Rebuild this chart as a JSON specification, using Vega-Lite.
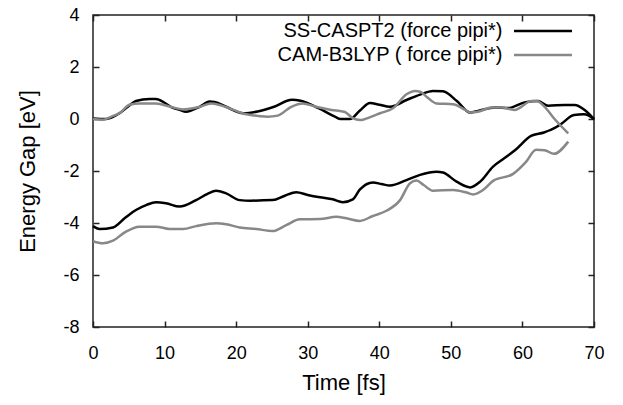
{
  "$schema": "https://vega.github.io/schema/vega-lite/v6.json",
  "width": 501,
  "height": 312,
  "autosize": "none",
  "padding": {"left": 93, "top": 15, "right": 29, "bottom": 78},
  "background": "white",
  "config": {
    "view": {"stroke": "#222", "strokeWidth": 1.5},
    "font": "Liberation Sans",
    "axis": {"grid": false, "domain": false, "tickColor": "#222", "tickWidth": 1.5, "tickSize": -6, "labelFlush": false, "labelFont": "Liberation Sans", "labelFontSize": 18, "labelColor": "#000", "titleFont": "Liberation Sans", "titleFontSize": 22, "titleFontWeight": "normal", "titleColor": "#000"}
  },
  "datasets": {
    "gaps": [
      {"t": 0, "gap": 0.02, "method": "SS-CASPT2 (force pipi*)", "state": "SSup"},
      {"t": 1.8, "gap": 0.0, "method": "SS-CASPT2 (force pipi*)", "state": "SSup"},
      {"t": 3.7, "gap": 0.22, "method": "SS-CASPT2 (force pipi*)", "state": "SSup"},
      {"t": 5.0, "gap": 0.5, "method": "SS-CASPT2 (force pipi*)", "state": "SSup"},
      {"t": 6.0, "gap": 0.69, "method": "SS-CASPT2 (force pipi*)", "state": "SSup"},
      {"t": 7.9, "gap": 0.77, "method": "SS-CASPT2 (force pipi*)", "state": "SSup"},
      {"t": 8.8, "gap": 0.77, "method": "SS-CASPT2 (force pipi*)", "state": "SSup"},
      {"t": 9.3, "gap": 0.73, "method": "SS-CASPT2 (force pipi*)", "state": "SSup"},
      {"t": 11.0, "gap": 0.45, "method": "SS-CASPT2 (force pipi*)", "state": "SSup"},
      {"t": 12.1, "gap": 0.35, "method": "SS-CASPT2 (force pipi*)", "state": "SSup"},
      {"t": 13.0, "gap": 0.28, "method": "SS-CASPT2 (force pipi*)", "state": "SSup"},
      {"t": 14.9, "gap": 0.47, "method": "SS-CASPT2 (force pipi*)", "state": "SSup"},
      {"t": 16.3, "gap": 0.67, "method": "SS-CASPT2 (force pipi*)", "state": "SSup"},
      {"t": 17.0, "gap": 0.65, "method": "SS-CASPT2 (force pipi*)", "state": "SSup"},
      {"t": 18.6, "gap": 0.47, "method": "SS-CASPT2 (force pipi*)", "state": "SSup"},
      {"t": 21.0, "gap": 0.22, "method": "SS-CASPT2 (force pipi*)", "state": "SSup"},
      {"t": 23.0, "gap": 0.29, "method": "SS-CASPT2 (force pipi*)", "state": "SSup"},
      {"t": 25.2, "gap": 0.46, "method": "SS-CASPT2 (force pipi*)", "state": "SSup"},
      {"t": 27.8, "gap": 0.74, "method": "SS-CASPT2 (force pipi*)", "state": "SSup"},
      {"t": 29.0, "gap": 0.7, "method": "SS-CASPT2 (force pipi*)", "state": "SSup"},
      {"t": 31.5, "gap": 0.42, "method": "SS-CASPT2 (force pipi*)", "state": "SSup"},
      {"t": 33.8, "gap": 0.09, "method": "SS-CASPT2 (force pipi*)", "state": "SSup"},
      {"t": 34.6, "gap": 0.0, "method": "SS-CASPT2 (force pipi*)", "state": "SSup"},
      {"t": 35.9, "gap": 0.0, "method": "SS-CASPT2 (force pipi*)", "state": "SSup"},
      {"t": 37.3, "gap": 0.33, "method": "SS-CASPT2 (force pipi*)", "state": "SSup"},
      {"t": 38.7, "gap": 0.62, "method": "SS-CASPT2 (force pipi*)", "state": "SSup"},
      {"t": 40.0, "gap": 0.55, "method": "SS-CASPT2 (force pipi*)", "state": "SSup"},
      {"t": 41.5, "gap": 0.47, "method": "SS-CASPT2 (force pipi*)", "state": "SSup"},
      {"t": 43.8, "gap": 0.73, "method": "SS-CASPT2 (force pipi*)", "state": "SSup"},
      {"t": 45.7, "gap": 0.94, "method": "SS-CASPT2 (force pipi*)", "state": "SSup"},
      {"t": 47.5, "gap": 1.08, "method": "SS-CASPT2 (force pipi*)", "state": "SSup"},
      {"t": 48.9, "gap": 1.07, "method": "SS-CASPT2 (force pipi*)", "state": "SSup"},
      {"t": 50.8, "gap": 0.7, "method": "SS-CASPT2 (force pipi*)", "state": "SSup"},
      {"t": 52.7, "gap": 0.25, "method": "SS-CASPT2 (force pipi*)", "state": "SSup"},
      {"t": 53.8, "gap": 0.31, "method": "SS-CASPT2 (force pipi*)", "state": "SSup"},
      {"t": 56.2, "gap": 0.44, "method": "SS-CASPT2 (force pipi*)", "state": "SSup"},
      {"t": 58.0, "gap": 0.42, "method": "SS-CASPT2 (force pipi*)", "state": "SSup"},
      {"t": 60.3, "gap": 0.64, "method": "SS-CASPT2 (force pipi*)", "state": "SSup"},
      {"t": 62.2, "gap": 0.69, "method": "SS-CASPT2 (force pipi*)", "state": "SSup"},
      {"t": 63.6, "gap": 0.51, "method": "SS-CASPT2 (force pipi*)", "state": "SSup"},
      {"t": 65.9, "gap": 0.54, "method": "SS-CASPT2 (force pipi*)", "state": "SSup"},
      {"t": 67.3, "gap": 0.54, "method": "SS-CASPT2 (force pipi*)", "state": "SSup"},
      {"t": 68.7, "gap": 0.35, "method": "SS-CASPT2 (force pipi*)", "state": "SSup"},
      {"t": 70.0, "gap": 0.0, "method": "SS-CASPT2 (force pipi*)", "state": "SSup"},

      {"t": 0, "gap": -4.12, "method": "SS-CASPT2 (force pipi*)", "state": "SSlo"},
      {"t": 0.9, "gap": -4.23, "method": "SS-CASPT2 (force pipi*)", "state": "SSlo"},
      {"t": 2.8, "gap": -4.17, "method": "SS-CASPT2 (force pipi*)", "state": "SSlo"},
      {"t": 4.5, "gap": -3.8, "method": "SS-CASPT2 (force pipi*)", "state": "SSlo"},
      {"t": 6.0, "gap": -3.5, "method": "SS-CASPT2 (force pipi*)", "state": "SSlo"},
      {"t": 7.5, "gap": -3.3, "method": "SS-CASPT2 (force pipi*)", "state": "SSlo"},
      {"t": 8.8, "gap": -3.2, "method": "SS-CASPT2 (force pipi*)", "state": "SSlo"},
      {"t": 10.2, "gap": -3.24, "method": "SS-CASPT2 (force pipi*)", "state": "SSlo"},
      {"t": 12.1, "gap": -3.37, "method": "SS-CASPT2 (force pipi*)", "state": "SSlo"},
      {"t": 14.4, "gap": -3.12, "method": "SS-CASPT2 (force pipi*)", "state": "SSlo"},
      {"t": 16.0, "gap": -2.88, "method": "SS-CASPT2 (force pipi*)", "state": "SSlo"},
      {"t": 17.2, "gap": -2.76, "method": "SS-CASPT2 (force pipi*)", "state": "SSlo"},
      {"t": 18.6, "gap": -2.86, "method": "SS-CASPT2 (force pipi*)", "state": "SSlo"},
      {"t": 20.5, "gap": -3.12, "method": "SS-CASPT2 (force pipi*)", "state": "SSlo"},
      {"t": 22.0, "gap": -3.14, "method": "SS-CASPT2 (force pipi*)", "state": "SSlo"},
      {"t": 25.1, "gap": -3.12, "method": "SS-CASPT2 (force pipi*)", "state": "SSlo"},
      {"t": 26.8, "gap": -2.95, "method": "SS-CASPT2 (force pipi*)", "state": "SSlo"},
      {"t": 28.4, "gap": -2.82, "method": "SS-CASPT2 (force pipi*)", "state": "SSlo"},
      {"t": 30.0, "gap": -2.92, "method": "SS-CASPT2 (force pipi*)", "state": "SSlo"},
      {"t": 31.7, "gap": -3.01, "method": "SS-CASPT2 (force pipi*)", "state": "SSlo"},
      {"t": 33.5, "gap": -3.09, "method": "SS-CASPT2 (force pipi*)", "state": "SSlo"},
      {"t": 34.9, "gap": -3.2, "method": "SS-CASPT2 (force pipi*)", "state": "SSlo"},
      {"t": 36.3, "gap": -3.09, "method": "SS-CASPT2 (force pipi*)", "state": "SSlo"},
      {"t": 37.3, "gap": -2.71, "method": "SS-CASPT2 (force pipi*)", "state": "SSlo"},
      {"t": 39.1, "gap": -2.44, "method": "SS-CASPT2 (force pipi*)", "state": "SSlo"},
      {"t": 40.3, "gap": -2.5, "method": "SS-CASPT2 (force pipi*)", "state": "SSlo"},
      {"t": 41.5, "gap": -2.56, "method": "SS-CASPT2 (force pipi*)", "state": "SSlo"},
      {"t": 43.8, "gap": -2.35, "method": "SS-CASPT2 (force pipi*)", "state": "SSlo"},
      {"t": 45.7, "gap": -2.15, "method": "SS-CASPT2 (force pipi*)", "state": "SSlo"},
      {"t": 48.0, "gap": -2.03, "method": "SS-CASPT2 (force pipi*)", "state": "SSlo"},
      {"t": 48.9, "gap": -2.06, "method": "SS-CASPT2 (force pipi*)", "state": "SSlo"},
      {"t": 50.8, "gap": -2.41, "method": "SS-CASPT2 (force pipi*)", "state": "SSlo"},
      {"t": 52.7, "gap": -2.63, "method": "SS-CASPT2 (force pipi*)", "state": "SSlo"},
      {"t": 54.1, "gap": -2.41, "method": "SS-CASPT2 (force pipi*)", "state": "SSlo"},
      {"t": 55.9, "gap": -1.83, "method": "SS-CASPT2 (force pipi*)", "state": "SSlo"},
      {"t": 57.5, "gap": -1.5, "method": "SS-CASPT2 (force pipi*)", "state": "SSlo"},
      {"t": 59.0, "gap": -1.19, "method": "SS-CASPT2 (force pipi*)", "state": "SSlo"},
      {"t": 61.2, "gap": -0.65, "method": "SS-CASPT2 (force pipi*)", "state": "SSlo"},
      {"t": 63.0, "gap": -0.52, "method": "SS-CASPT2 (force pipi*)", "state": "SSlo"},
      {"t": 64.8, "gap": -0.3, "method": "SS-CASPT2 (force pipi*)", "state": "SSlo"},
      {"t": 65.5, "gap": -0.17, "method": "SS-CASPT2 (force pipi*)", "state": "SSlo"},
      {"t": 67.2, "gap": 0.15, "method": "SS-CASPT2 (force pipi*)", "state": "SSlo"},
      {"t": 68.6, "gap": 0.18, "method": "SS-CASPT2 (force pipi*)", "state": "SSlo"},
      {"t": 70.0, "gap": 0.0, "method": "SS-CASPT2 (force pipi*)", "state": "SSlo"},

      {"t": 0, "gap": 0.0, "method": "CAM-B3LYP ( force pipi*)", "state": "CAMup"},
      {"t": 1.4, "gap": -0.03, "method": "CAM-B3LYP ( force pipi*)", "state": "CAMup"},
      {"t": 2.8, "gap": 0.12, "method": "CAM-B3LYP ( force pipi*)", "state": "CAMup"},
      {"t": 3.7, "gap": 0.22, "method": "CAM-B3LYP ( force pipi*)", "state": "CAMup"},
      {"t": 5.1, "gap": 0.55, "method": "CAM-B3LYP ( force pipi*)", "state": "CAMup"},
      {"t": 6.5, "gap": 0.6, "method": "CAM-B3LYP ( force pipi*)", "state": "CAMup"},
      {"t": 8.8, "gap": 0.6, "method": "CAM-B3LYP ( force pipi*)", "state": "CAMup"},
      {"t": 10.7, "gap": 0.48, "method": "CAM-B3LYP ( force pipi*)", "state": "CAMup"},
      {"t": 12.6, "gap": 0.37, "method": "CAM-B3LYP ( force pipi*)", "state": "CAMup"},
      {"t": 14.0, "gap": 0.41, "method": "CAM-B3LYP ( force pipi*)", "state": "CAMup"},
      {"t": 14.9, "gap": 0.47, "method": "CAM-B3LYP ( force pipi*)", "state": "CAMup"},
      {"t": 16.5, "gap": 0.6, "method": "CAM-B3LYP ( force pipi*)", "state": "CAMup"},
      {"t": 17.7, "gap": 0.54, "method": "CAM-B3LYP ( force pipi*)", "state": "CAMup"},
      {"t": 19.0, "gap": 0.42, "method": "CAM-B3LYP ( force pipi*)", "state": "CAMup"},
      {"t": 21.1, "gap": 0.2, "method": "CAM-B3LYP ( force pipi*)", "state": "CAMup"},
      {"t": 23.3, "gap": 0.11, "method": "CAM-B3LYP ( force pipi*)", "state": "CAMup"},
      {"t": 24.4, "gap": 0.09, "method": "CAM-B3LYP ( force pipi*)", "state": "CAMup"},
      {"t": 25.8, "gap": 0.13, "method": "CAM-B3LYP ( force pipi*)", "state": "CAMup"},
      {"t": 27.7, "gap": 0.47, "method": "CAM-B3LYP ( force pipi*)", "state": "CAMup"},
      {"t": 29.3, "gap": 0.6, "method": "CAM-B3LYP ( force pipi*)", "state": "CAMup"},
      {"t": 31.0, "gap": 0.48, "method": "CAM-B3LYP ( force pipi*)", "state": "CAMup"},
      {"t": 33.3, "gap": 0.35, "method": "CAM-B3LYP ( force pipi*)", "state": "CAMup"},
      {"t": 35.2, "gap": 0.27, "method": "CAM-B3LYP ( force pipi*)", "state": "CAMup"},
      {"t": 36.3, "gap": 0.03, "method": "CAM-B3LYP ( force pipi*)", "state": "CAMup"},
      {"t": 37.3, "gap": -0.04, "method": "CAM-B3LYP ( force pipi*)", "state": "CAMup"},
      {"t": 39.0, "gap": 0.1, "method": "CAM-B3LYP ( force pipi*)", "state": "CAMup"},
      {"t": 40.1, "gap": 0.22, "method": "CAM-B3LYP ( force pipi*)", "state": "CAMup"},
      {"t": 41.9, "gap": 0.41, "method": "CAM-B3LYP ( force pipi*)", "state": "CAMup"},
      {"t": 43.8, "gap": 0.95, "method": "CAM-B3LYP ( force pipi*)", "state": "CAMup"},
      {"t": 45.0, "gap": 1.08, "method": "CAM-B3LYP ( force pipi*)", "state": "CAMup"},
      {"t": 45.7, "gap": 1.05, "method": "CAM-B3LYP ( force pipi*)", "state": "CAMup"},
      {"t": 46.6, "gap": 0.86, "method": "CAM-B3LYP ( force pipi*)", "state": "CAMup"},
      {"t": 48.0, "gap": 0.6, "method": "CAM-B3LYP ( force pipi*)", "state": "CAMup"},
      {"t": 50.3, "gap": 0.57, "method": "CAM-B3LYP ( force pipi*)", "state": "CAMup"},
      {"t": 52.0, "gap": 0.35, "method": "CAM-B3LYP ( force pipi*)", "state": "CAMup"},
      {"t": 52.7, "gap": 0.25, "method": "CAM-B3LYP ( force pipi*)", "state": "CAMup"},
      {"t": 53.8, "gap": 0.28, "method": "CAM-B3LYP ( force pipi*)", "state": "CAMup"},
      {"t": 55.7, "gap": 0.44, "method": "CAM-B3LYP ( force pipi*)", "state": "CAMup"},
      {"t": 57.1, "gap": 0.44, "method": "CAM-B3LYP ( force pipi*)", "state": "CAMup"},
      {"t": 58.9, "gap": 0.35, "method": "CAM-B3LYP ( force pipi*)", "state": "CAMup"},
      {"t": 61.3, "gap": 0.69, "method": "CAM-B3LYP ( force pipi*)", "state": "CAMup"},
      {"t": 62.0, "gap": 0.69, "method": "CAM-B3LYP ( force pipi*)", "state": "CAMup"},
      {"t": 63.1, "gap": 0.47, "method": "CAM-B3LYP ( force pipi*)", "state": "CAMup"},
      {"t": 64.4, "gap": 0.03, "method": "CAM-B3LYP ( force pipi*)", "state": "CAMup"},
      {"t": 66.4, "gap": -0.55, "method": "CAM-B3LYP ( force pipi*)", "state": "CAMup"},

      {"t": 0, "gap": -4.7, "method": "CAM-B3LYP ( force pipi*)", "state": "CAMlo"},
      {"t": 1.4, "gap": -4.78, "method": "CAM-B3LYP ( force pipi*)", "state": "CAMlo"},
      {"t": 2.8, "gap": -4.68, "method": "CAM-B3LYP ( force pipi*)", "state": "CAMlo"},
      {"t": 4.5, "gap": -4.35, "method": "CAM-B3LYP ( force pipi*)", "state": "CAMlo"},
      {"t": 6.5, "gap": -4.14, "method": "CAM-B3LYP ( force pipi*)", "state": "CAMlo"},
      {"t": 8.8, "gap": -4.14, "method": "CAM-B3LYP ( force pipi*)", "state": "CAMlo"},
      {"t": 10.7, "gap": -4.23, "method": "CAM-B3LYP ( force pipi*)", "state": "CAMlo"},
      {"t": 12.6, "gap": -4.23, "method": "CAM-B3LYP ( force pipi*)", "state": "CAMlo"},
      {"t": 14.4, "gap": -4.12, "method": "CAM-B3LYP ( force pipi*)", "state": "CAMlo"},
      {"t": 17.2, "gap": -4.01, "method": "CAM-B3LYP ( force pipi*)", "state": "CAMlo"},
      {"t": 18.6, "gap": -4.05, "method": "CAM-B3LYP ( force pipi*)", "state": "CAMlo"},
      {"t": 20.5, "gap": -4.17, "method": "CAM-B3LYP ( force pipi*)", "state": "CAMlo"},
      {"t": 22.8, "gap": -4.23, "method": "CAM-B3LYP ( force pipi*)", "state": "CAMlo"},
      {"t": 25.1, "gap": -4.31, "method": "CAM-B3LYP ( force pipi*)", "state": "CAMlo"},
      {"t": 27.0, "gap": -4.08, "method": "CAM-B3LYP ( force pipi*)", "state": "CAMlo"},
      {"t": 28.9, "gap": -3.86, "method": "CAM-B3LYP ( force pipi*)", "state": "CAMlo"},
      {"t": 31.7, "gap": -3.85, "method": "CAM-B3LYP ( force pipi*)", "state": "CAMlo"},
      {"t": 34.0, "gap": -3.76, "method": "CAM-B3LYP ( force pipi*)", "state": "CAMlo"},
      {"t": 35.4, "gap": -3.82, "method": "CAM-B3LYP ( force pipi*)", "state": "CAMlo"},
      {"t": 37.3, "gap": -3.92, "method": "CAM-B3LYP ( force pipi*)", "state": "CAMlo"},
      {"t": 39.1, "gap": -3.73, "method": "CAM-B3LYP ( force pipi*)", "state": "CAMlo"},
      {"t": 41.0, "gap": -3.53, "method": "CAM-B3LYP ( force pipi*)", "state": "CAMlo"},
      {"t": 42.9, "gap": -3.12, "method": "CAM-B3LYP ( force pipi*)", "state": "CAMlo"},
      {"t": 44.3, "gap": -2.47, "method": "CAM-B3LYP ( force pipi*)", "state": "CAMlo"},
      {"t": 45.2, "gap": -2.37, "method": "CAM-B3LYP ( force pipi*)", "state": "CAMlo"},
      {"t": 46.2, "gap": -2.54, "method": "CAM-B3LYP ( force pipi*)", "state": "CAMlo"},
      {"t": 47.5, "gap": -2.76, "method": "CAM-B3LYP ( force pipi*)", "state": "CAMlo"},
      {"t": 50.3, "gap": -2.73, "method": "CAM-B3LYP ( force pipi*)", "state": "CAMlo"},
      {"t": 52.2, "gap": -2.83, "method": "CAM-B3LYP ( force pipi*)", "state": "CAMlo"},
      {"t": 53.1, "gap": -2.9, "method": "CAM-B3LYP ( force pipi*)", "state": "CAMlo"},
      {"t": 54.5, "gap": -2.73, "method": "CAM-B3LYP ( force pipi*)", "state": "CAMlo"},
      {"t": 55.9, "gap": -2.38, "method": "CAM-B3LYP ( force pipi*)", "state": "CAMlo"},
      {"t": 58.7, "gap": -2.11, "method": "CAM-B3LYP ( force pipi*)", "state": "CAMlo"},
      {"t": 60.5, "gap": -1.65, "method": "CAM-B3LYP ( force pipi*)", "state": "CAMlo"},
      {"t": 61.9, "gap": -1.18, "method": "CAM-B3LYP ( force pipi*)", "state": "CAMlo"},
      {"t": 63.1, "gap": -1.2, "method": "CAM-B3LYP ( force pipi*)", "state": "CAMlo"},
      {"t": 64.4, "gap": -1.34, "method": "CAM-B3LYP ( force pipi*)", "state": "CAMlo"},
      {"t": 66.4, "gap": -0.87, "method": "CAM-B3LYP ( force pipi*)", "state": "CAMlo"}
    ]
  },
  "data": {"name": "gaps"},
  "encoding": {
    "x": {"field": "t", "type": "quantitative", "scale": {"domain": [0, 70], "nice": false, "zero": false}},
    "y": {"field": "gap", "type": "quantitative", "scale": {"domain": [-8, 4], "nice": false, "zero": false}}
  },
  "layer": [
    {
      "mark": {"type": "line", "strokeWidth": 2.5, "interpolate": "monotone"},
      "encoding": {
        "x": {"field": "t", "type": "quantitative", "axis": {"orient": "bottom", "values": [0, 10, 20, 30, 40, 50, 60, 70], "title": "Time [fs]", "labelPadding": 23, "titlePadding": 10}},
        "y": {"field": "gap", "type": "quantitative", "axis": {"orient": "left", "values": [-8, -6, -4, -2, 0, 2, 4], "title": "Energy Gap [eV]", "labelPadding": 20, "titlePadding": 23, "labelExpr": "datum.value < 0 ? '-' + abs(datum.value) : '' + datum.value"}},
        "color": {
          "field": "method", "type": "nominal",
          "scale": {"domain": ["SS-CASPT2 (force pipi*)", "CAM-B3LYP ( force pipi*)"], "range": ["#000000", "#888888"]},
          "legend": {"orient": "none", "legendX": 440, "legendY": 6, "title": null, "symbolType": "M-5,0H5", "symbolSize": 134.6, "symbolStrokeWidth": 2.5, "labelAlign": "right", "labelOffset": -50.5, "labelLimit": 0, "labelFontSize": 20, "labelFont": "Liberation Sans", "labelColor": "#000", "rowPadding": 4, "padding": 0}
        },
        "detail": {"field": "state", "type": "nominal"}
      }
    },
    {
      "mark": {"type": "line", "strokeOpacity": 0},
      "encoding": {
        "x": {"field": "t", "type": "quantitative", "axis": {"orient": "top", "values": [0, 10, 20, 30, 40, 50, 60, 70], "labels": false, "title": null}},
        "y": {"field": "gap", "type": "quantitative", "axis": {"orient": "right", "values": [-8, -6, -4, -2, 0, 2, 4], "labels": false, "title": null}},
        "detail": {"field": "state", "type": "nominal"}
      }
    }
  ],
  "resolve": {"axis": {"x": "independent", "y": "independent"}}
}
